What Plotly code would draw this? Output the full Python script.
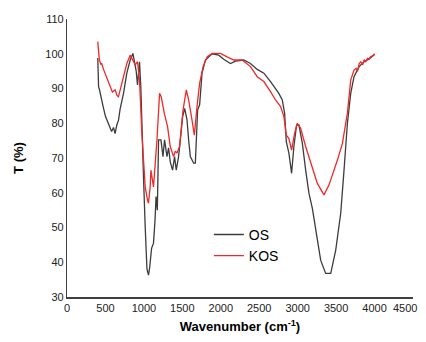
import plotly.graph_objects as go

os_wn = [400, 405, 411, 424, 440, 470, 500, 535, 580, 605, 625, 648, 670, 690, 735, 778, 822, 857, 900, 917,
         943, 960, 974, 995, 1017, 1040, 1060, 1075, 1100, 1125, 1145, 1158, 1175, 1191, 1222, 1248, 1269, 1300,
         1321, 1343, 1373, 1399, 1421, 1451, 1474, 1504, 1530, 1561, 1582, 1604, 1647, 1669, 1699, 1725, 1756,
         1800, 1887, 1973, 2038, 2126, 2191, 2299, 2386, 2474, 2560, 2647, 2755, 2800, 2830, 2843, 2852, 2886,
         2921, 2951, 2986, 3016, 3061, 3104, 3147, 3191, 3238, 3299, 3364, 3430, 3495, 3560, 3603, 3647, 3690,
         3733, 3799, 3864, 3930, 4000]
os_t = [98.8, 94.0, 90.5, 89.5, 87.6, 84.8, 82.0, 80.0, 77.6, 78.8, 77.0, 79.5, 80.9, 84.0, 88.6, 94.4, 98.2, 100.1, 95.0, 91.0,
        97.7, 90.5, 77.1, 64.6, 50.2, 38.0, 36.3, 38.5, 44.0, 45.5, 52.2, 58.9, 55.0, 75.2, 75.2, 70.4, 75.2, 70.4,
        72.9, 68.9, 66.5, 70.4, 66.5, 70.4, 75.2, 81.9, 84.3, 81.0, 75.2, 70.4, 68.5, 68.5, 83.8, 85.3, 94.4,
        98.2, 100.0, 99.6, 98.4, 97.2, 97.9, 98.2, 97.2, 95.5, 94.4, 92.0, 88.6, 86.7, 82.9, 78.0, 74.7, 71.4,
        65.6, 73.3, 79.5, 79.5, 74.2, 66.5, 59.8, 55.5, 49.3, 40.6, 36.8, 36.8, 43.5, 54.1, 66.5, 80.0, 88.6,
        93.4, 96.3, 97.7, 98.5, 99.8]

kos_wn = [400, 410, 421, 440, 452, 475, 496, 520, 545, 561, 590, 626, 650, 669, 690, 713, 745, 778, 822, 857, 887,
          917, 943, 974, 995, 1017, 1047, 1060, 1082, 1091, 1125, 1170, 1204, 1226, 1265, 1308, 1343, 1386,
          1410, 1430, 1464, 1509, 1552, 1582, 1626, 1656, 1691, 1725, 1770, 1822, 1887, 1995, 2083, 2169,
          2278, 2386, 2474, 2560, 2647, 2712, 2778, 2821, 2852, 2886, 2921, 2960, 2995, 3038, 3104, 3169,
          3256, 3342, 3407, 3517, 3582, 3647, 3690, 3733, 3760, 3780, 3800, 3821, 3845, 3865, 3885, 3908,
          3930, 3950, 3975, 4000]
kos_t = [103.5, 99.5, 98.2, 97.0, 97.2, 95.5, 94.4, 92.8, 91.5, 90.5, 89.0, 89.6, 88.0, 87.6, 89.5, 91.5, 95.0, 97.2, 99.6, 98.2, 96.8,
         97.7, 92.4, 77.1, 69.4, 61.7, 57.9, 57.0, 61.7, 66.5, 61.7, 75.2, 88.6, 87.6, 82.9, 79.0, 73.3, 70.4,
         72.0, 71.4, 73.3, 83.8, 89.6, 86.7, 80.9, 76.6, 84.8, 91.5, 96.3, 99.1, 100.1, 100.1, 99.1, 98.2,
         98.2, 96.3, 93.4, 92.0, 89.1, 86.7, 84.8, 81.9, 76.6, 75.6, 72.3, 77.1, 80.0, 78.6, 73.3, 68.5,
         62.7, 59.4, 62.2, 69.4, 74.2, 82.9, 92.4, 95.3, 95.8, 95.0, 97.2, 97.7, 96.8, 98.3, 97.6, 98.7,
         98.5, 99.2, 99.4, 100.0]

x_ticks = [0, 500, 1000, 1500, 2000, 2500, 3000, 3500, 4000, 4500]
y_ticks = [30, 40, 50, 60, 70, 80, 90, 100, 110]

fig = go.Figure()
fig.add_trace(go.Scatter(x=os_wn, y=os_t, mode="lines", name="OS",
                         line=dict(color="#3c3c3c", width=1.3)))
fig.add_trace(go.Scatter(x=kos_wn, y=kos_t, mode="lines", name="KOS",
                         line=dict(color="#f02828", width=1.3)))

# the last x tick label would be clipped at the page edge: draw it as a right-anchored annotation
tick_text = [str(v) for v in x_ticks[:-1]] + [""]
fig.add_annotation(x=x_ticks[-1], xref="x", y=0, yref="paper", yanchor="top", xanchor="right",
                   text=str(x_ticks[-1]), showarrow=False, xshift=6, yshift=-2.5,
                   font=dict(size=11, color="#222222"))

fig.update_layout(
    width=418, height=326,
    margin=dict(l=59, r=13, t=11, b=37),
    paper_bgcolor="white", plot_bgcolor="white",
    font=dict(family="Liberation Sans, Arial, sans-serif", color="#000000"),
    showlegend=True,
    legend=dict(x=0.41, y=0.281, xanchor="left", yanchor="top",
                bgcolor="rgba(0,0,0,0)", font=dict(size=14, color="#000000"),
                itemwidth=30, tracegroupgap=0),
    xaxis=dict(range=[0, 4500], tickvals=x_ticks, ticktext=tick_text, showgrid=False, zeroline=False,
               showline=True, linecolor="#404040", linewidth=1.5, ticks="",
               automargin=False,
               tickfont=dict(size=11, color="#222222"),
               title=dict(text="<b>Wavenumber (cm<sup>-1</sup>)</b>", font=dict(size=13), standoff=11)),
    yaxis=dict(range=[30, 110], tickvals=y_ticks, showgrid=False, zeroline=False,
               showline=True, linecolor="#404040", linewidth=1.2, ticks="",
               automargin=False,
               tickfont=dict(size=11, color="#222222"),
               title=dict(text="<b>T (%)</b>", font=dict(size=13), standoff=18)),
)

fig.write_html("out.html")
